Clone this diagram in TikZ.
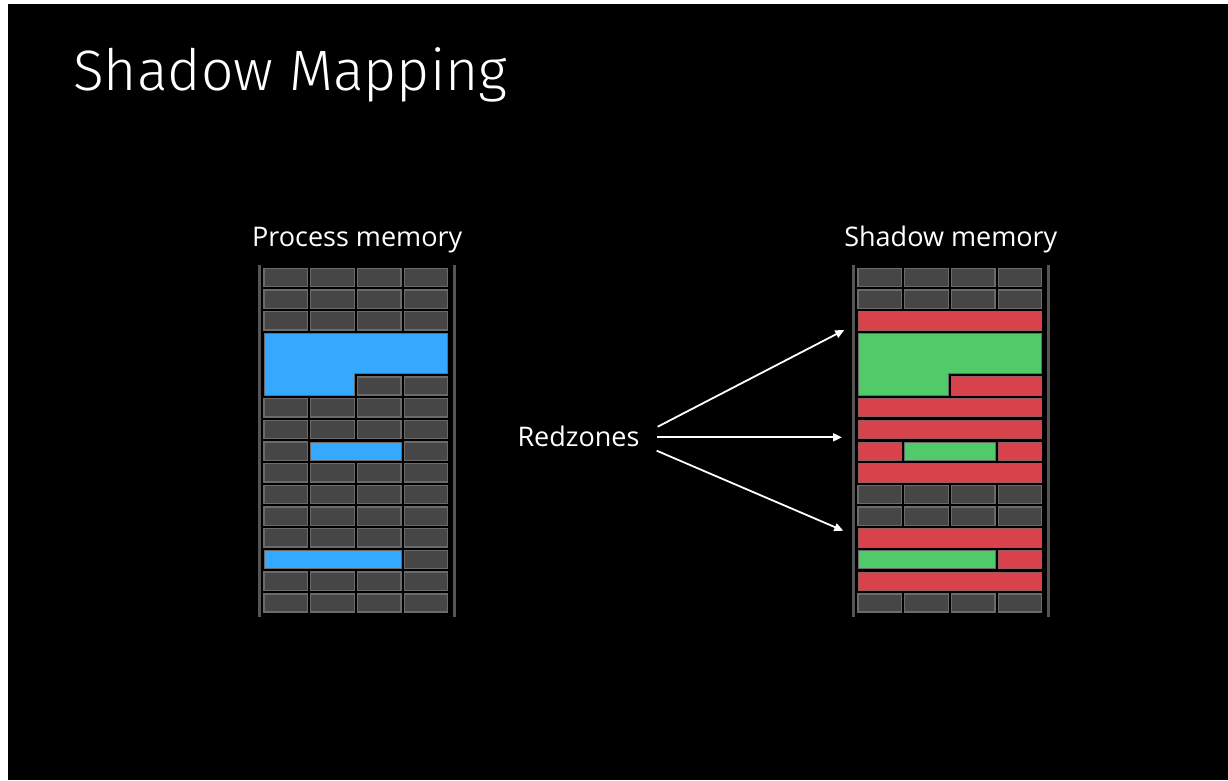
\documentclass[tikz,border=0pt]{standalone}
\usepackage{fontspec}
\setmainfont{Open Sans}
\newfontfamily\titlefont{Fira Sans Light}
\usetikzlibrary{arrows.meta}
\definecolor{cellgray}{HTML}{464646}
\definecolor{cellborder}{HTML}{6B6B6B}
\definecolor{railgray}{HTML}{555555}
\definecolor{memblue}{HTML}{35A9FF}
\definecolor{memgreen}{HTML}{51CB69}
\definecolor{memred}{HTML}{D8434B}
\definecolor{redborder}{HTML}{9A5A5E}
\tikzset{
  graycell/.style={fill=cellgray, draw=cellborder, line width=1.4pt},
  bluecell/.style={fill=memblue, draw=cellborder, line width=0.8pt},
  greencell/.style={fill=memgreen, draw=cellborder, line width=0.8pt},
  redcell/.style={fill=memred, draw=redborder, line width=0.8pt},
  rail/.style={draw=railgray, line width=3pt},
  label/.style={text=white, font=\fontsize{27}{31}\selectfont, inner sep=0pt},
  pointer/.style={draw=white, line width=1.8pt, -{Triangle[length=9pt,width=8pt]}}
}
% cell: #1 style, #2 x origin, #3 row, #4 first col, #5 last col
\newcommand{\memcell}[5]{%
  \path[#1] ({#2+46.75*(#4-1)},{268.3+21.7*(#3-1)}) rectangle ({#2+46.75*(#5-1)+43.5},{268.3+21.7*(#3-1)+18.3});}
\begin{document}
\begin{tikzpicture}[x=1pt,y=-1pt]
\useasboundingbox (0,0) rectangle (1228,780);
\fill[white] (0,0) rectangle (1228,780);
\fill[black] (8,4) rectangle (1228,780);
% title
\node[text=white, font=\titlefont\fontsize{57}{63}\selectfont, anchor=base west, inner sep=0pt] (title) at (73,90) {Shadow Mapping};
\node[label, anchor=base] (proc) at (357.2,246.7) {Process memory};
\node[label, anchor=base] (shad) at (950.8,246.7) {Shadow memory};
\node[label, anchor=base west] (red) at (517.3,446.7) {Redzones};
% rails
\draw[rail] (259,265) -- (259,617);
\draw[rail] (454,265) -- (454,617);
\draw[rail] (853,265) -- (853,617);
\draw[rail] (1048,265) -- (1048,617);
% ---------- process memory (x0 = 264)
\foreach \r in {1,2,3,7,8,10,11,12,13,15,16}{
  \foreach \c in {1,2,3,4}{\memcell{graycell}{264}{\r}{\c}{\c}}}
\memcell{graycell}{264}{6}{3}{3}
\memcell{graycell}{264}{6}{4}{4}
\memcell{graycell}{264}{9}{1}{1}
\memcell{graycell}{264}{9}{4}{4}
\memcell{graycell}{264}{14}{4}{4}
\path[bluecell] (264,333.4) -- (447.75,333.4) -- (447.75,373.4) -- (354.25,373.4) -- (354.25,395.1) -- (264,395.1) -- cycle;
\memcell{bluecell}{264}{9}{2}{3}
\memcell{bluecell}{264}{14}{1}{3}
% ---------- shadow memory (x0 = 858)
\foreach \r in {1,2,11,12,16}{
  \foreach \c in {1,2,3,4}{\memcell{graycell}{858}{\r}{\c}{\c}}}
\foreach \r in {3,7,8,10,13,15}{\memcell{redcell}{858}{\r}{1}{4}}
\path[greencell] (858,333.4) -- (1041.75,333.4) -- (1041.75,373.4) -- (948.25,373.4) -- (948.25,395.1) -- (858,395.1) -- cycle;
\memcell{redcell}{858}{6}{3}{4}
\memcell{redcell}{858}{9}{1}{1}
\memcell{greencell}{858}{9}{2}{3}
\memcell{redcell}{858}{9}{4}{4}
\memcell{greencell}{858}{14}{1}{3}
\memcell{redcell}{858}{14}{4}{4}
% arrows
\coordinate (t1) at (844.3,330);
\coordinate (t2) at (842,437.3);
\coordinate (t3) at (843.3,530.7);
\coordinate (s1) at (657.7,426.7);
\coordinate (s2) at (656.7,437.3);
\coordinate (s3) at (656.7,450.7);
\draw[pointer] (s1) -- (t1);
\draw[pointer] (s2) -- (t2);
\draw[pointer] (s3) -- (t3);
\end{tikzpicture}
\end{document}
